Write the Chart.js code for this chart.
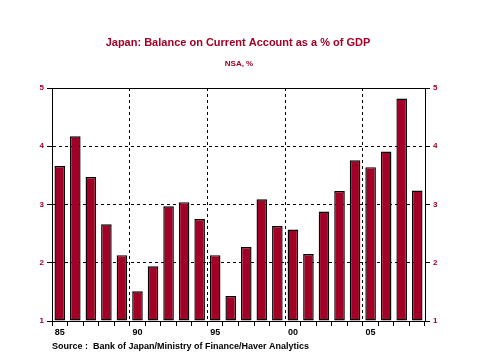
<!DOCTYPE html>
<html>
<head>
<meta charset="utf-8">
<script src="https://cdn.jsdelivr.net/npm/chart.js@4/dist/chart.umd.min.js"></script>
<style>
  html, body { margin: 0; padding: 0; background: #fff; }
  #wrap { width: 478px; height: 359px; }
</style>
</head>
<body>
<div id="wrap"><canvas id="caChart" width="478" height="359"></canvas></div>
<script>
// Japan current account balance, % of GDP (NSA), annual
const years = [1985, 1986, 1987, 1988, 1989, 1990, 1991, 1992, 1993, 1994, 1995, 1996,
               1997, 1998, 1999, 2000, 2001, 2002, 2003, 2004, 2005, 2006, 2007, 2008];
const balance = [3.66, 4.17, 3.47, 2.66, 2.13, 1.51, 1.94, 2.97, 3.04, 2.75, 2.13, 1.43,
                 2.27, 3.09, 2.63, 2.57, 2.15, 2.88, 3.23, 3.76, 3.64, 3.91, 4.82, 3.24];
const yTicks = [1, 2, 3, 4, 5];

const RED = '#a20026';
const FONT = '"Liberation Sans", Arial, sans-serif';

// titles + source line, and the box round the plot
const decor = {
  id: 'decor',
  afterDraw(chart) {
    const { ctx, chartArea: a } = chart;
    ctx.save();
    ctx.strokeStyle = '#000';
    ctx.lineWidth = 1;
    ctx.strokeRect(a.left + 0.5, a.top + 0.5, a.right - a.left, a.bottom - a.top);

    ctx.textAlign = 'center';
    ctx.textBaseline = 'middle';
    ctx.fillStyle = RED;
    ctx.font = 'bold 11px ' + FONT;
    ctx.fillText('Japan: Balance on Current Account as a % of GDP', 238, 43);
    ctx.font = 'bold 8px ' + FONT;
    ctx.fillText('NSA, %', 239, 64);

    ctx.textAlign = 'left';
    ctx.fillStyle = '#000';
    ctx.font = 'bold 9px ' + FONT;
    ctx.fillText('Source :  Bank of Japan/Ministry of Finance/Haver Analytics', 52, 347);
    ctx.restore();
  }
};

const yAxis = (pos) => ({
  position: pos,
  min: 1,
  max: 5,
  afterBuildTicks: (scale) => { scale.ticks = yTicks.map(v => ({ value: v })); },
  afterFit: (scale) => { scale.width = 20; },
  grid: {
    drawOnChartArea: pos === 'left',
    color: (c) => (c.tick && c.tick.value > 1 && c.tick.value < 5) ? '#000' : 'rgba(0,0,0,0)',
    tickColor: '#000',
    tickLength: 5,
    lineWidth: 1
  },
  border: { display: true, color: '#000', dash: [3, 3] },
  ticks: {
    color: RED,
    padding: 3,
    font: { family: FONT, size: 8, weight: 'bold' }
  }
});

new Chart(document.getElementById('caChart'), {
  type: 'bar',
  data: {
    labels: years,
    datasets: [{
      data: balance,
      backgroundColor: RED,
      borderColor: '#000',
      borderWidth: 1.4,
      borderSkipped: false,
      categoryPercentage: 1,
      barPercentage: 0.68,
      base: 1
    }]
  },
  plugins: [decor],
  options: {
    responsive: false,
    animation: false,
    layout: { padding: { top: 88, left: 32, right: 33, bottom: 18 } },
    plugins: {
      legend: { display: false },
      title: { display: false },
      tooltip: { enabled: false }
    },
    scales: {
      x: {
        afterFit: (scale) => { scale.height = 20; },
        grid: {
          offset: true,
          color: (c) => (c.index % 5 === 0 && c.index > 0 && c.index < years.length) ? '#000' : 'rgba(0,0,0,0)',
          tickColor: '#000',
          tickLength: 5,
          lineWidth: 1
        },
        border: { display: true, color: '#000', dash: [3, 3] },
        ticks: {
          autoSkip: false,
          maxRotation: 0,
          padding: 1,
          color: '#000',
          font: { family: FONT, size: 9, weight: 'bold' },
          callback: (v, i) => years[i] % 5 === 0 ? String(years[i]).slice(2) : ''
        }
      },
      y: yAxis('left'),
      y2: yAxis('right')
    }
  }
});
</script>
</body>
</html>
